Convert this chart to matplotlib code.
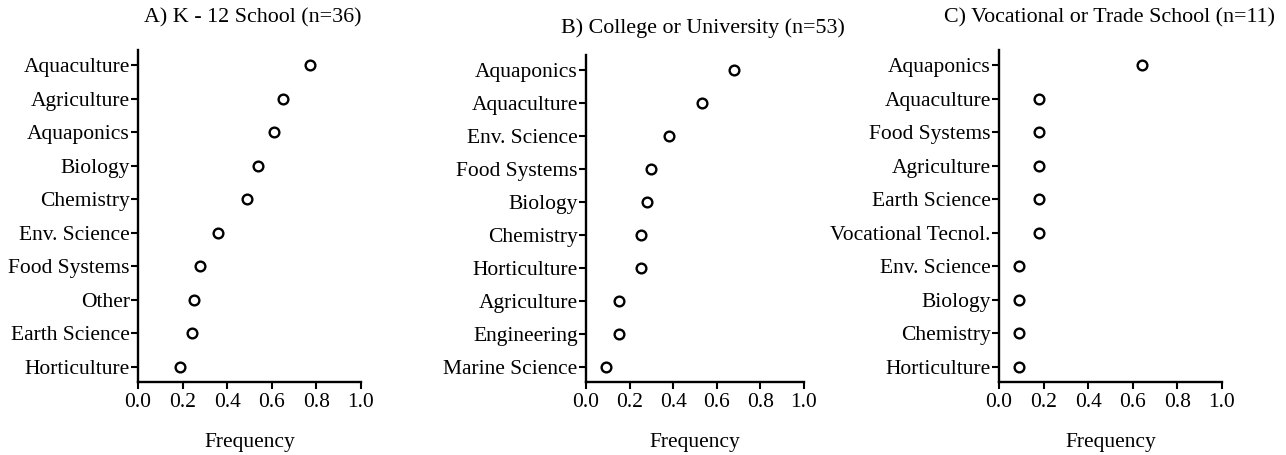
import matplotlib.pyplot as plt
import numpy as np

plt.rcParams['font.family'] = ['Liberation Serif', 'DejaVu Serif']

# Data - frequencies (top to bottom)
k12_labels = ["Aquaculture", "Agriculture", "Aquaponics", "Biology", "Chemistry",
              "Env. Science", "Food Systems", "Other", "Earth Science", "Horticulture"]
k12_freq = [0.77, 0.65, 0.61, 0.54, 0.49, 0.36, 0.28, 0.25, 0.24, 0.19]

college_labels = ["Aquaponics", "Aquaculture", "Env. Science", "Food Systems", "Biology",
                  "Chemistry", "Horticulture", "Agriculture", "Engineering", "Marine Science"]
college_freq = [0.68, 0.53, 0.38, 0.30, 0.28, 0.25, 0.25, 0.15, 0.15, 0.09]

voc_labels = ["Aquaponics", "Aquaculture", "Food Systems", "Agriculture", "Earth Science",
              "Vocational Tecnol.", "Env. Science", "Biology", "Chemistry", "Horticulture"]
voc_freq = [0.64, 0.18, 0.18, 0.18, 0.18, 0.18, 0.09, 0.09, 0.09, 0.09]

titles = ["A) K - 12 School (n=36)", "B) College or University (n=53)",
          "C) Vocational or Trade School (n=11)"]

W, H = 1286, 455
fig = plt.figure(figsize=(W / 100, H / 100), dpi=100)

# axes boxes in pixels: left, right, top, bottom
boxes = [(138, 361, 50, 382), (586, 804, 55, 382), (999, 1222, 50, 382)]
title_pos = [(253, 18), (703, 28), (1110, 18)]

panels = [(k12_labels, k12_freq), (college_labels, college_freq), (voc_labels, voc_freq)]

for (labels, freq), (l, r, t, b), title, (tx, ty) in zip(panels, boxes, titles, title_pos):
    ax = fig.add_axes([l / W, 1 - b / H, (r - l) / W, (b - t) / H])
    y = np.arange(len(labels))[::-1]
    ax.plot(freq, y, 'o', mfc='white', mec='black', mew=1.7, ms=7, ls='none')
    ax.set_xlim(0, 1.0)
    ax.set_ylim(-0.46, len(labels) - 1 + 0.46)
    ax.set_xticks(np.arange(0, 1.01, 0.2))
    ax.set_xticklabels([f"{v:.1f}" for v in np.arange(0, 1.01, 0.2)])
    ax.set_yticks(y)
    ax.set_yticklabels(labels)
    ax.tick_params(axis='both', labelsize=15.5, width=1.5, length=5, direction='out')
    ax.tick_params(axis='y', pad=1)
    ax.tick_params(axis='x', pad=3)
    for s in ['top', 'right']:
        ax.spines[s].set_visible(False)
    for s in ['left', 'bottom']:
        ax.spines[s].set_linewidth(1.7)
    ax.set_xlabel("Frequency", fontsize=15.5, labelpad=15)
    fig.text(tx / W, 1 - ty / H, title, fontsize=15.8, ha='center', va='center')

plt.savefig('out.png', dpi=100)
